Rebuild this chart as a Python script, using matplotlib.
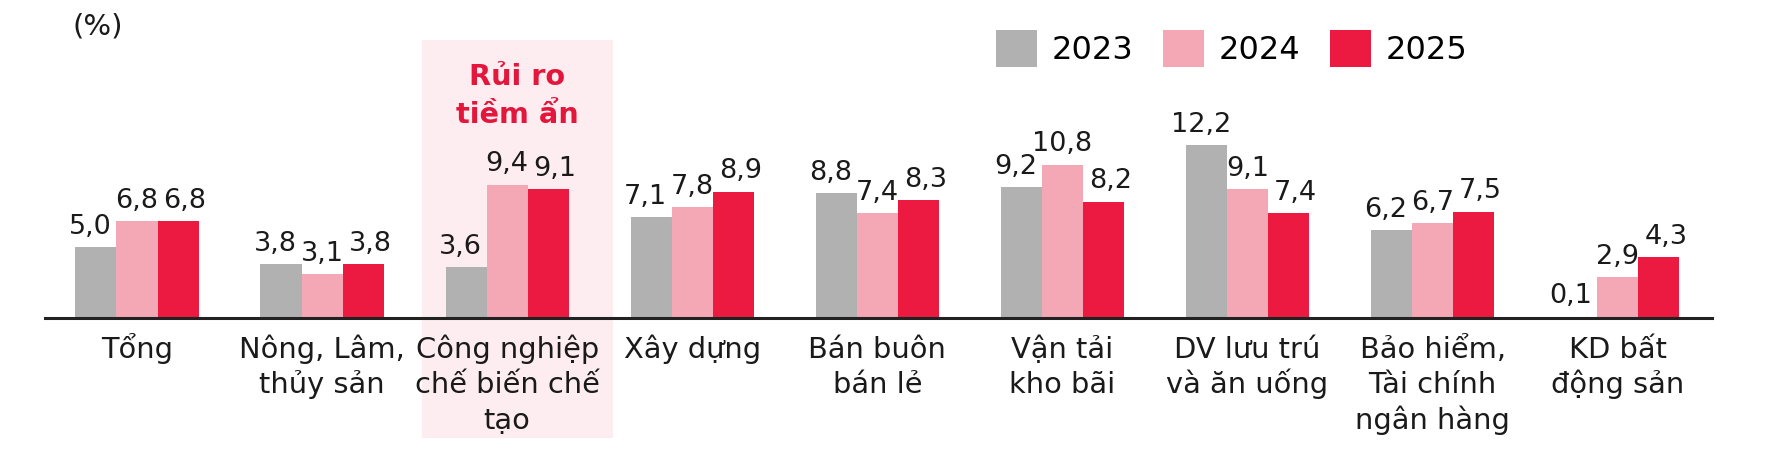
import numpy as np
import matplotlib
matplotlib.use("Agg")
import matplotlib.pyplot as plt
import matplotlib.transforms as mtransforms
from matplotlib.patches import Rectangle

# data
categories = ["Tổng", "Nông, Lâm,\nthủy sản", "Công nghiệp\nchế biến chế\ntạo", "Xây dựng",
              "Bán buôn\nbán lẻ", "Vận tải\nkho bãi", "DV lưu trú\nvà ăn uống",
              "Bảo hiểm,\nTài chính\nngân hàng", "KD bất\nđộng sản"]
years = ["2023", "2024", "2025"]
v2023 = [5.0, 3.8, 3.6, 7.1, 8.8, 9.2, 12.2, 6.2, 0.1]
v2024 = [6.8, 3.1, 9.4, 7.8, 7.4, 10.8, 9.1, 6.7, 2.9]
v2025 = [6.8, 3.8, 9.1, 8.9, 8.3, 8.2, 7.4, 7.5, 4.3]
highlight = 2  # Công nghiệp chế biến chế tạo

colors = ["#b1b1b1", "#f4a8b5", "#ec1a40"]
txt = "#1a1a1a"
red_txt = "#e3163c"

plt.rcParams['font.family'] = ['DejaVu Sans']

fig = plt.figure(figsize=(17.72, 4.61), dpi=100)
ax = fig.add_axes([0.0254, 0.3102, 0.9407, 0.6898])
ax.patch.set_alpha(0)

x = np.arange(len(categories))
w = 0.222
series = [v2023, v2024, v2025]
label_dx = [-4, 0, 5]  # points

# highlight band behind the manufacturing group (x in data, y in figure)
trans = mtransforms.blended_transform_factory(ax.transData, fig.transFigure)
band = Rectangle((highlight - 0.46, 0.05), 1.03, 0.863, transform=trans,
                 facecolor="#fdedf0", edgecolor="none", zorder=0, clip_on=False)
ax.add_patch(band)

bars = []
for k, vals in enumerate(series):
    b = ax.bar(x + (k - 1) * w, vals, width=w, color=colors[k], label=years[k], zorder=2)
    bars.append(b)
    for xi, v in zip(x, vals):
        ax.annotate(f"{v:.1f}".replace(".", ","), xy=(xi + (k - 1) * w, v),
                    xytext=(label_dx[k], 9.5), textcoords="offset points",
                    ha="center", va="baseline", fontsize=19.5, color=txt, zorder=3)

# category labels, line by line so baselines stay even
for xi, lab in zip(x, categories):
    for j, line in enumerate(lab.split("\n")):
        ax.annotate(line, xy=(xi, 0), xytext=(0, -29 - j * 25.3), textcoords="offset points",
                    ha="center", va="baseline", fontsize=20.8, color=txt,
                    annotation_clip=False, zorder=3)

ax.set_xlim(-0.497, 8.509)
ax.set_ylim(0, 22.4)
for s in ["top", "left", "right"]:
    ax.spines[s].set_visible(False)
ax.spines["bottom"].set_linewidth(2.2)
ax.spines["bottom"].set_color("#222222")
ax.spines["bottom"].set_zorder(4)
ax.set_xticks([])
ax.set_yticks([])

# note above the highlighted group
for j, line in enumerate(["Rủi ro", "tiềm ẩn"]):
    ax.text(highlight + 0.055, 0.8156 - j * 0.0824, line, transform=trans, ha="center",
            va="baseline", fontsize=20.7, fontweight="bold", color=red_txt, zorder=3)

fig.text(0.0553, 0.9436, "(%)", ha="center", va="center", fontsize=21, color=txt)

fig.legend(handles=bars, labels=years, loc="center left", bbox_to_anchor=(0.562, 0.894),
           ncol=3, frameon=False, fontsize=23, handlelength=1.28, handleheight=1.41,
           handletextpad=0.45, columnspacing=0.95, borderpad=0, borderaxespad=0)

fig.savefig("out.png", dpi=100)
